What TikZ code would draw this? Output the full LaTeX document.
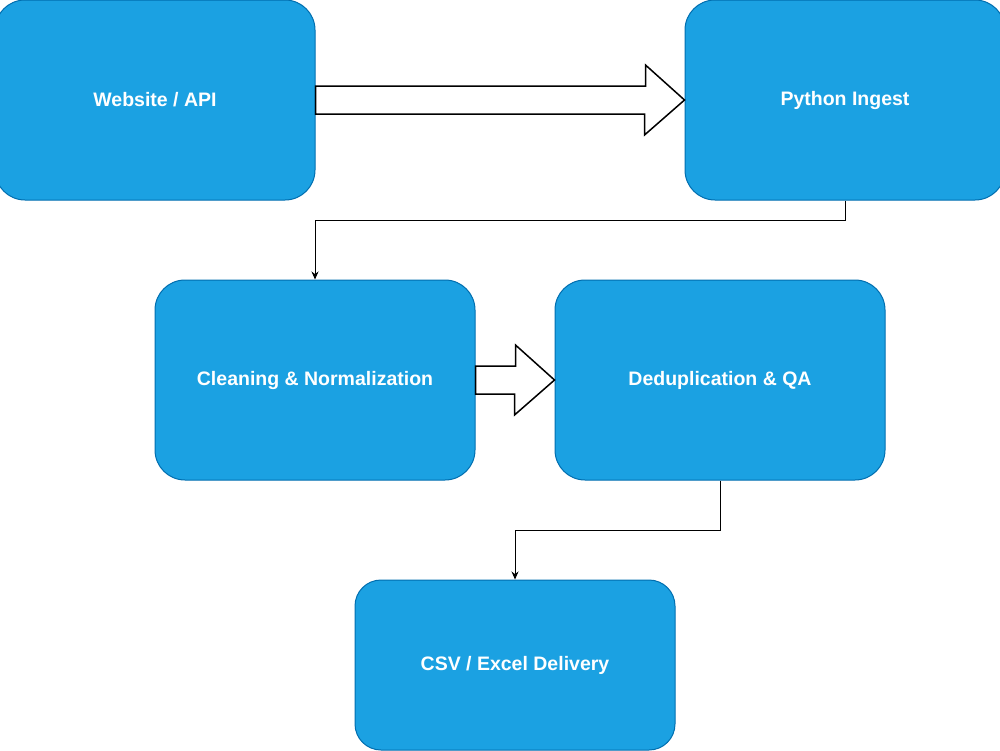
\documentclass[tikz,border=0pt]{standalone}
\usepackage{fontspec}
\setmainfont{Liberation Sans}
\usetikzlibrary{arrows.meta,calc}
\definecolor{boxfill}{HTML}{1BA1E2}
\definecolor{boxline}{HTML}{006EAF}
\begin{document}
\begin{tikzpicture}[x=1pt,y=-1pt,
  stage/.style={draw=boxline, fill=boxfill, line width=1pt, rounded corners=30pt,
    text=white, font=\bfseries\fontsize{19.5}{23}\selectfont, inner sep=0pt,
    minimum width=320pt, minimum height=200pt},
  flow/.style={draw=black, line width=1pt, -{Stealth[length=8pt,width=7pt]}},
  blockarrow/.style={draw=black, fill=white, line width=1.5pt, line join=miter}]
\useasboundingbox (0,0) rectangle (1000,750);
\node[stage] (web) at (155,100) {Website / API};
\node[stage] (py) at (845,100) {Python Ingest};
\node[stage] (clean) at (315,380) {Cleaning \& Normalization};
\node[stage, minimum width=330pt] (dedup) at (720,380) {Deduplication \& QA};
\node[stage, minimum height=170pt, rounded corners=26pt] (csv) at (515,665) {CSV / Excel Delivery};
\draw[blockarrow] ($(web.east)+(0,-14)$) -- ++(330,0) -- ++(0,-21) -- (py.west)
  -- ++(-40,35) -- ++(0,-21) -- ($(web.east)+(0,14)$) -- cycle;
\draw[blockarrow] ($(clean.east)+(0,-14)$) -- ++(40,0) -- ++(0,-21) -- (dedup.west)
  -- ++(-40,35) -- ++(0,-21) -- ($(clean.east)+(0,14)$) -- cycle;
\draw[flow] (py.south) -- ++(0,20) -| (clean.north);
\draw[flow] (dedup.south) -- ++(0,50) -| (csv.north);
\end{tikzpicture}
\end{document}
